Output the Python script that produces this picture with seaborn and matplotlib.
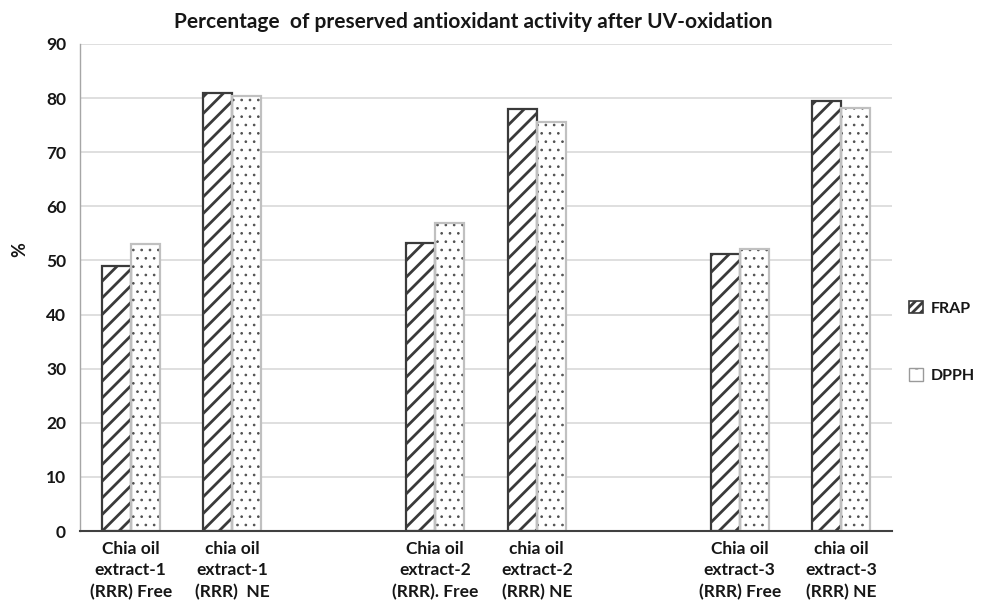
import matplotlib
matplotlib.use("Agg")
import matplotlib.pyplot as plt
import seaborn as sns
import pandas as pd
from matplotlib.patches import Patch, Rectangle

# Sample names (two-slot gaps separate the three extracts)
samples = [
    "Chia oil\nextract-1\n(RRR) Free",
    "chia oil\nextract-1\n(RRR)  NE",
    "Chia oil\nextract-2\n(RRR). Free",
    "chia oil\nextract-2\n(RRR) NE",
    "Chia oil\nextract-3\n(RRR) Free",
    "chia oil\nextract-3\n(RRR) NE",
]
slot_order = [samples[0], samples[1], " ", samples[2], samples[3], "  ", samples[4], samples[5]]

frap = [49.0, 81.0, 53.3, 78.0, 51.2, 79.5]
dpph = [53.0, 80.3, 57.0, 75.5, 52.2, 78.2]
assays = ["FRAP", "DPPH"]

df = pd.DataFrame({
    "sample": samples * 2,
    "assay": ["FRAP"] * len(samples) + ["DPPH"] * len(samples),
    "value": frap + dpph,
})

sns.set_theme(style="white")
plt.rcParams["font.family"] = ["Lato", "DejaVu Sans"]
plt.rcParams["hatch.linewidth"] = 2.0

fig = plt.figure(figsize=(9.82, 6.04), dpi=100)
ax = fig.add_axes([80 / 982, 1 - 531 / 604, 812 / 982, 487 / 604])

sns.barplot(data=df, x="sample", y="value", hue="assay", order=slot_order,
            hue_order=assays, width=0.57, ax=ax, legend=False,
            palette=["white", "white"], linewidth=0, errorbar=None)

dark = "#3a3a3a"
light = "#c0c0c0"
text_col = "#161616"


def hatch_width(patch, w):
    if hasattr(patch, "set_hatch_linewidth"):
        patch.set_hatch_linewidth(w)


# FRAP: dense diagonal stripes with a dark outline
for bar in ax.containers[0]:
    bar.set_facecolor("white")
    bar.set_edgecolor(dark)
    bar.set_hatch("//")
    bar.set_linewidth(0)
    hatch_width(bar, 2.0)
    ax.add_patch(Rectangle((bar.get_x(), 0), bar.get_width(), bar.get_height(),
                           fill=False, edgecolor=dark, linewidth=1.6, zorder=3))

# DPPH: fine dots with a light outline
for bar in ax.containers[1]:
    bar.set_facecolor("white")
    bar.set_edgecolor("#505050")
    bar.set_hatch("..")
    bar.set_linewidth(0)
    hatch_width(bar, 0.7)
    ax.add_patch(Rectangle((bar.get_x(), 0), bar.get_width(), bar.get_height(),
                           fill=False, edgecolor=light, linewidth=1.6, zorder=3))

ax.set_xlim(-0.5, len(slot_order) - 0.5)
ax.set_ylim(0, 90)
ax.set_yticks(range(0, 91, 10))
ax.yaxis.grid(True, color="#d9d9d9", linewidth=1.2)
ax.set_axisbelow(True)

for side in ["top", "right"]:
    ax.spines[side].set_visible(False)
ax.spines["left"].set_color("#a6a6a6")
ax.spines["left"].set_linewidth(1.0)
ax.spines["bottom"].set_color("#404040")
ax.spines["bottom"].set_linewidth(1.5)
ax.spines["bottom"].set_zorder(4)

ax.tick_params(axis="both", length=0)
ax.tick_params(axis="y", pad=10, labelsize=12.5, labelcolor=text_col)
ax.tick_params(axis="x", pad=7, labelsize=12.5, labelcolor=text_col)
for lbl in ax.get_xticklabels() + ax.get_yticklabels():
    lbl.set_fontweight("bold")
for lbl in ax.get_xticklabels():
    lbl.set_linespacing(1.42)

ax.set_xlabel("")
ax.set_ylabel("%", fontsize=13, fontweight="bold", color=text_col, rotation=90)
ax.yaxis.set_label_coords(-0.064, 0.577)

fig.text(473 / 982, 1 - 22 / 604, "Percentage  of preserved antioxidant activity after UV-oxidation",
         ha="center", va="center", fontsize=15, fontweight="bold", color=text_col)

handles = [
    Patch(facecolor="white", edgecolor=dark, hatch="////", linewidth=1.2),
    Patch(facecolor="white", edgecolor="#9a9a9a", hatch=".", linewidth=1.0),
]
for h in handles:
    hatch_width(h, 1.0)
leg = fig.legend(handles, assays, loc="center left",
                 bbox_to_anchor=(895 / 982, 1 - 342 / 604), frameon=False,
                 handlelength=0.85, handleheight=0.85, handletextpad=0.5,
                 labelspacing=3.3, prop={"weight": "bold", "size": 11.5})
for t in leg.get_texts():
    t.set_color(text_col)

fig.savefig("out.png", dpi=100)
